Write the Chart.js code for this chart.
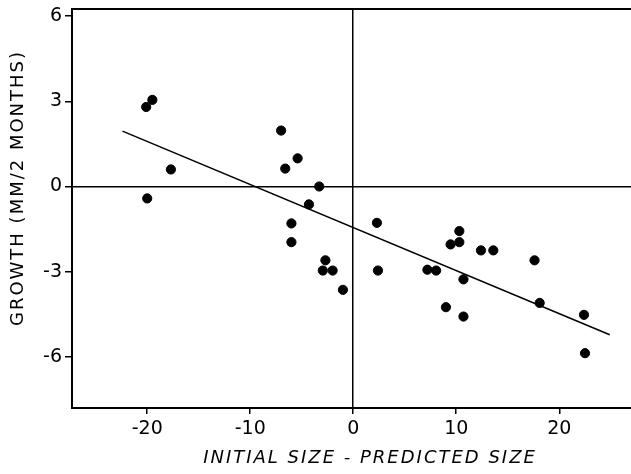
<!DOCTYPE html>
<html>
<head>
<meta charset="utf-8">
<script src="https://cdn.jsdelivr.net/npm/chart.js@4/dist/chart.umd.min.js"></script>
<style>
  html, body { margin: 0; padding: 0; background: #fff; overflow: hidden; }
  #wrap { width: 631px; height: 474px; overflow: hidden; }
</style>
</head>
<body>
<div id="wrap"><canvas id="chart" width="638" height="474"></canvas></div>
<script>
// observed points (initial size - predicted size, growth)
const sizeDiff = [-20.1, -19.5, -17.7, -20.0, -7.0, -6.6, -5.4, -3.3, -4.3, -6.0, -6.0,
  2.3, 10.3, -2.7, -2.95, -2.0, -1.0, 2.4, 7.2, 8.05, 9.45, 10.3, 12.4, 13.6,
  10.7, 9.0, 10.7, 17.6, 18.1, 22.4, 22.5];
const growth = [2.8, 3.05, 0.6, -0.42, 1.97, 0.63, 0.99, 0.0, -0.63, -1.3, -1.96,
  -1.28, -1.57, -2.6, -2.96, -2.96, -3.64, -2.96, -2.93, -2.96, -2.04, -1.96, -2.25, -2.25,
  -3.27, -4.25, -4.58, -2.6, -4.1, -4.52, -5.87];

// fitted regression line end points
const fitX = [-22.4, 24.9];
const fitY = [1.95, -5.22];

const xTicks = [-20, -10, 0, 10, 20];
const yTicks = [6, 3, 0, -3, -6];

const xTitle = "INITIAL SIZE - PREDICTED SIZE";
const yTitle = "GROWTH (MM/2 MONTHS)";

const font = "'DejaVu Sans', 'Liberation Sans', sans-serif";

const points = sizeDiff.map((x, i) => ({ x: x, y: growth[i] }));
const fit = fitX.map((x, i) => ({ x: x, y: fitY[i] }));

const zeroLine = (ctx) => (ctx.tick && ctx.tick.value === 0 ? "#000" : "rgba(0,0,0,0)");

// axis titles drawn by hand so they can sit where the original put them
const axisTitles = {
  id: "axisTitles",
  afterDraw(chart) {
    const ctx = chart.ctx;
    ctx.save();
    ctx.fillStyle = "#000";
    ctx.textAlign = "center";
    ctx.textBaseline = "middle";
    ctx.letterSpacing = "2px";
    ctx.font = "italic 18px " + font;
    ctx.fillText(xTitle, 370, 458);
    ctx.translate(18, 188);
    ctx.rotate(-Math.PI / 2);
    ctx.font = "18px " + font;
    ctx.fillText(yTitle, 0, 0);
    ctx.restore();
  },
};

new Chart(document.getElementById("chart"), {
  type: "scatter",
  data: {
    datasets: [
      {
        data: points,
        backgroundColor: "#000",
        borderColor: "#000",
        pointRadius: 4.6,
        pointHoverRadius: 4.6,
      },
      {
        type: "line",
        data: fit,
        borderColor: "#000",
        borderWidth: 1.6,
        pointRadius: 0,
        fill: false,
      },
    ],
  },
  plugins: [axisTitles],
  options: {
    responsive: false,
    animation: false,
    layout: { padding: { top: 9, right: 0, left: 0, bottom: 0 } },
    plugins: { legend: { display: false }, tooltip: { enabled: false } },
    scales: {
      x: {
        type: "linear",
        min: -27.3,
        max: 27.1,
        afterBuildTicks: (s) => { s.ticks = xTicks.map((v) => ({ value: v })); },
        afterFit: (s) => { s.height = 66; },
        border: { color: "#000", width: 2 },
        grid: { color: zeroLine, lineWidth: 1.5, tickColor: "#000", tickLength: 6 },
        ticks: {
          color: "#000",
          font: { family: font, size: 19 },
          padding: 4,
          callback: (v) => String(v),
        },
      },
      xTop: {
        type: "linear",
        position: "top",
        min: -27.3,
        max: 27.1,
        border: { color: "#000", width: 2 },
        grid: { display: false },
        ticks: { display: false },
        afterFit: (s) => { s.height = 0; },
      },
      y: {
        type: "linear",
        min: -7.8,
        max: 6.25,
        afterBuildTicks: (s) => { s.ticks = yTicks.map((v) => ({ value: v })); },
        afterFit: (s) => {
          s.width = 72;
          s.paddingTop = 0;
          s.paddingBottom = 0;
        },
        border: { color: "#000", width: 2 },
        grid: { color: zeroLine, lineWidth: 1.5, tickColor: "#000", tickLength: 7 },
        ticks: {
          color: "#000",
          font: { family: font, size: 19 },
          padding: 3,
          callback: (v) => String(v),
        },
      },
    },
  },
});
</script>
</body>
</html>
